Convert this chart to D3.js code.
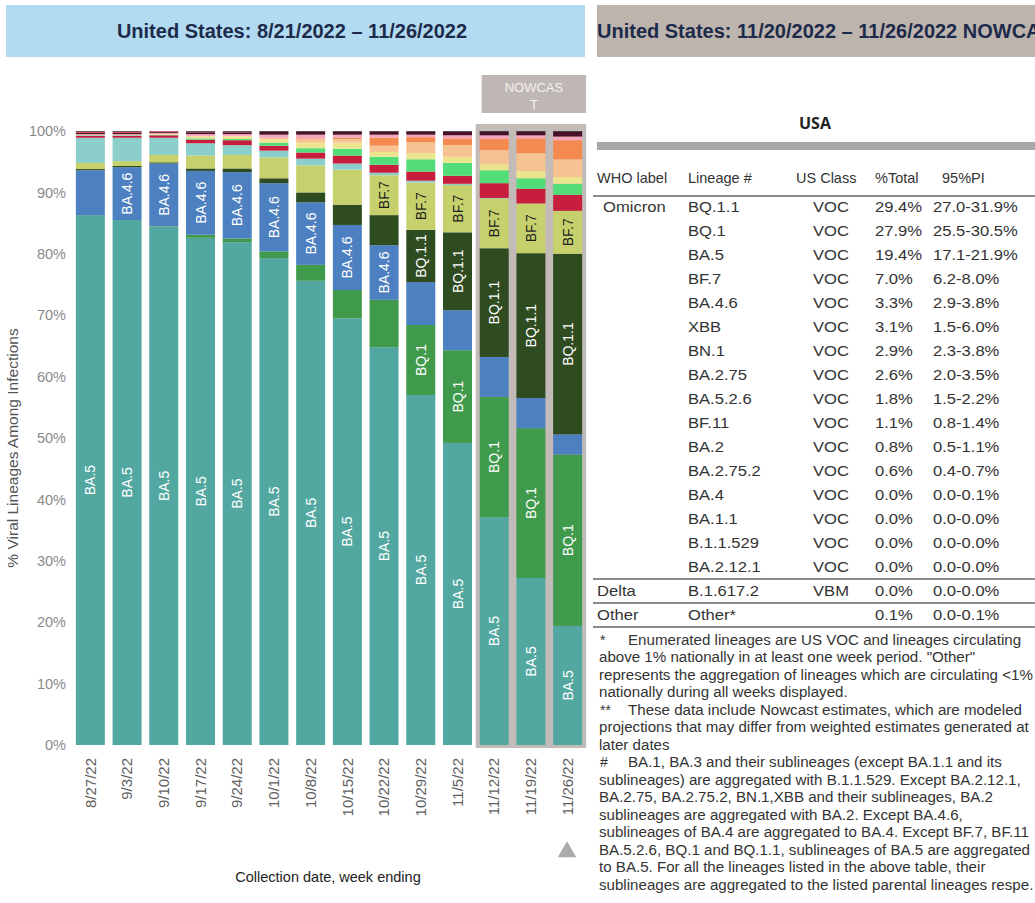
<!DOCTYPE html>
<html><head><meta charset="utf-8">
<script src="https://cdn.jsdelivr.net/npm/d3@7/dist/d3.min.js"></script>
<style>
body{margin:0;background:#fff}
svg{display:block}
text{font-family:"Liberation Sans",Arial,Helvetica,sans-serif}
</style>
</head><body>
<svg id="chart" width="1035" height="903"></svg>
<script>
// ---------- data ----------
const weeks = ["8/27/22","9/3/22","9/10/22","9/17/22","9/24/22","10/1/22","10/8/22","10/15/22","10/22/22","10/29/22","11/5/22","11/12/22","11/19/22","11/26/22"];
const nowcastWeeks = ["11/12/22","11/19/22","11/26/22"];

// stacked bottom -> top
const BA_5      = [86.3,85.5,84.4,82.6,81.9,79.3,75.6,69.5,64.8,57.0,49.2,37.1,27.2,19.4];
const BQ_1      = [0.0,0.0,0.1,0.5,0.6,1.1,2.6,4.6,7.7,11.4,15.1,19.6,24.4,27.9];
const BA_4_6    = [7.3,8.6,10.2,10.4,10.8,11.1,10.2,10.6,8.9,7.0,6.5,6.5,4.9,3.3];
const BQ_1_1    = [0.2,0.2,0.2,0.4,0.6,0.8,1.6,3.3,4.9,8.5,12.7,17.7,23.6,29.4];
const BF_7      = [1.0,0.8,1.2,2.1,2.2,3.4,4.4,5.7,6.5,7.7,7.7,8.1,8.1,7.0];
const BA_4      = [4.1,3.8,2.8,2.0,1.6,1.1,1.1,1.0,0.4,0.3,0.2,0.1,0.0,0.0];
const BA_2_75   = [0.3,0.3,0.4,0.6,0.8,0.8,1.0,1.3,1.3,1.5,1.3,2.4,2.4,2.6];
const BA_5_2_6  = [0.1,0.1,0.1,0.2,0.2,0.5,0.7,1.1,1.3,2.0,2.1,2.1,1.7,1.8];
const BF_11     = [0.0,0.0,0.1,0.3,0.4,0.5,0.9,1.0,0.8,1.0,1.0,1.0,1.2,1.1];
const BN_1      = [0.0,0.0,0.0,0.1,0.1,0.3,0.6,0.6,1.0,1.8,1.9,2.3,2.9,2.9];
const XBB       = [0.0,0.0,0.0,0.0,0.0,0.0,0.1,0.2,1.3,0.8,1.1,1.8,2.4,3.1];
const BA_2_75_2 = [0.2,0.2,0.2,0.3,0.3,0.5,0.6,0.5,0.5,0.4,0.5,0.6,0.5,0.6];
const BA_2      = [0.2,0.2,0.2,0.3,0.3,0.5,0.5,0.5,0.5,0.5,0.6,0.6,0.6,0.8];
const BA_2_12_1 = [0.2,0.2,0.1,0.1,0.1,0.0,0.0,0.0,0.0,0.0,0.0,0.0,0.0,0.0];
const OTHER     = [0.1,0.1,0.0,0.1,0.1,0.1,0.1,0.1,0.1,0.1,0.1,0.1,0.1,0.1];

const seriesNames  = ["BA.5","BQ.1","BA.4.6","BQ.1.1","BF.7","BA.4","BA.2.75","BA.5.2.6","BF.11","BN.1","XBB","BA.2.75.2","BA.2","BA.2.12.1","Other"];
const seriesValues = [BA_5,BQ_1,BA_4_6,BQ_1_1,BF_7,BA_4,BA_2_75,BA_5_2_6,BF_11,BN_1,XBB,BA_2_75_2,BA_2,BA_2_12_1,OTHER];
const seriesColors = ["#52a8a1","#3f9a4b","#4c80c0","#2f4b20","#c6d16d","#8ccfca","#c71e3d","#52dd78","#ece48f","#f6c291","#f48a50","#f4a6b8","#4a0f2b","#d9404f","#1d1d1d"];

// in-bar labels: series -> weeks where the name is printed
const labelWeeks = {
  "BA.5": weeks,
  "BA.4.6": ["9/3/22","9/10/22","9/17/22","9/24/22","10/1/22","10/8/22","10/15/22","10/22/22"],
  "BQ.1": ["10/29/22","11/5/22","11/12/22","11/19/22","11/26/22"],
  "BQ.1.1": ["10/29/22","11/5/22","11/12/22","11/19/22","11/26/22"],
  "BF.7": ["10/22/22","10/29/22","11/5/22","11/12/22","11/19/22","11/26/22"]
};

const yTicks = [0,10,20,30,40,50,60,70,80,90,100];

// table (nowcast)
const tblWho     = ["Omicron","","","","","","","","","","","","","","","","Delta","Other"];
const tblLineage = ["BQ.1.1","BQ.1","BA.5","BF.7","BA.4.6","XBB","BN.1","BA.2.75","BA.5.2.6","BF.11","BA.2","BA.2.75.2","BA.4","BA.1.1","B.1.1.529","BA.2.12.1","B.1.617.2","Other*"];
const tblClass   = ["VOC","VOC","VOC","VOC","VOC","VOC","VOC","VOC","VOC","VOC","VOC","VOC","VOC","VOC","VOC","VOC","VBM",""];
const tblTotal   = ["29.4%","27.9%","19.4%","7.0%","3.3%","3.1%","2.9%","2.6%","1.8%","1.1%","0.8%","0.6%","0.0%","0.0%","0.0%","0.0%","0.0%","0.1%"];
const tblPI      = ["27.0-31.9%","25.5-30.5%","17.1-21.9%","6.2-8.0%","2.9-3.8%","1.5-6.0%","2.3-3.8%","2.0-3.5%","1.5-2.2%","0.8-1.4%","0.5-1.1%","0.4-0.7%","0.0-0.1%","0.0-0.0%","0.0-0.0%","0.0-0.0%","0.0-0.0%","0.0-0.1%"];
const tblHeaders = ["WHO label","Lineage #","US Class","%Total","95%PI"];

const footnotes = [
  ["*","Enumerated lineages are US VOC and lineages circulating"],
  ["","above 1% nationally in at least one week period. \"Other\""],
  ["","represents the aggregation of lineages which are circulating <1%"],
  ["","nationally during all weeks displayed."],
  ["**","These data include Nowcast estimates, which are modeled"],
  ["","projections that may differ from weighted estimates generated at"],
  ["","later dates"],
  ["#","BA.1, BA.3 and their sublineages (except BA.1.1 and its"],
  ["","sublineages) are aggregated with B.1.1.529. Except BA.2.12.1,"],
  ["","BA.2.75, BA.2.75.2, BN.1,XBB and their sublineages, BA.2"],
  ["","sublineages are aggregated with BA.2. Except BA.4.6,"],
  ["","sublineages of BA.4 are aggregated to BA.4. Except BF.7, BF.11"],
  ["","BA.5.2.6, BQ.1 and BQ.1.1, sublineages of BA.5 are aggregated"],
  ["","to BA.5. For all the lineages listed in the above table, their"],
  ["","sublineages are aggregated to the listed parental lineages respe."]
];

// ---------- drawing ----------
const svg = d3.select("#chart");

// headers
svg.append("rect").attr("x",6).attr("y",5).attr("width",579).attr("height",52).attr("fill","#b2dbf2");
svg.append("text").attr("x",292).attr("y",31).attr("dy","0.35em").attr("text-anchor","middle")
  .attr("font-size",20).attr("font-weight","bold").attr("fill","#1d2b4b")
  .text("United States: 8/21/2022 \u2013 11/26/2022");
svg.append("rect").attr("x",597).attr("y",5).attr("width",438).attr("height",52).attr("fill","#bdb4ae");
svg.append("text").attr("x",597).attr("y",31).attr("dy","0.35em")
  .attr("font-size",20).attr("font-weight","bold").attr("fill","#1d2b4b")
  .text("United States: 11/20/2022 \u2013 11/26/2022 NOWCAST");

// scales
const x = d3.scaleBand().domain(weeks).range([72,586]).paddingInner(0.21).paddingOuter(0.105);
const y = d3.scaleLinear().domain([0,100]).range([745,131]);

// nowcast background + tag
const nx0 = x(nowcastWeeks[0]) - 4;
const nx1 = x(nowcastWeeks[nowcastWeeks.length-1]) + x.bandwidth() + 4;
svg.append("rect").attr("x",nx0).attr("y",124).attr("width",nx1-nx0).attr("height",y(0)+3-124).attr("fill","#c3bbb7");
svg.append("rect").attr("x",nx0+6).attr("y",75).attr("width",nx1-nx0-6).attr("height",38).attr("fill","#bfb7b3");
svg.append("text").attr("x",(nx0+6+nx1)/2).attr("y",87).attr("dy","0.35em").attr("text-anchor","middle")
  .attr("font-size",13).attr("fill","#f4f1ef").text("NOWCAS");
svg.append("text").attr("x",(nx0+6+nx1)/2).attr("y",104).attr("dy","0.35em").attr("text-anchor","middle")
  .attr("font-size",13).attr("fill","#f4f1ef").text("T");

// stacked data
const rows = weeks.map((w,i)=>{
  const r = {week:w};
  seriesNames.forEach((s,j)=>{ r[s] = seriesValues[j][i]; });
  return r;
});
const color = d3.scaleOrdinal().domain(seriesNames).range(seriesColors);
const stacked = d3.stack().keys(seriesNames)(rows);

const gBars = svg.append("g");
gBars.selectAll("g").data(stacked).join("g").attr("fill",d=>color(d.key))
  .selectAll("rect").data(d=>d).join("rect")
  .attr("x",d=>x(d.data.week))
  .attr("y",d=>y(d[1]))
  .attr("width",x.bandwidth())
  .attr("height",d=>Math.max(0,y(d[0])-y(d[1])));

// in-bar labels
const gLab = svg.append("g");
stacked.forEach(layer=>{
  const lw = labelWeeks[layer.key];
  if(!lw) return;
  layer.forEach(d=>{
    if(!lw.includes(d.data.week)) return;
    const cx = x(d.data.week) + x.bandwidth()/2;
    const cy = (y(d[0]) + y(d[1]))/2;
    gLab.append("text")
      .attr("transform",`translate(${cx},${cy}) rotate(-90)`)
      .attr("text-anchor","middle").attr("dy","0.36em")
      .attr("font-size",14)
      .attr("fill", layer.key==="BF.7" ? "#1e1e1e" : "#ffffff")
      .text(layer.key);
  });
});

// y axis
const gy = svg.append("g").attr("transform","translate(66,0)")
  .call(d3.axisLeft(y).tickValues(yTicks).tickFormat(d=>d+"%").tickSize(0).tickPadding(0));
gy.select(".domain").remove();
gy.selectAll("text").attr("font-size",14.5).attr("fill","#8a8a8a").attr("font-family","Liberation Sans, Arial, sans-serif");

svg.append("text").attr("transform","translate(13,448) rotate(-90)").attr("text-anchor","middle").attr("dy","0.35em")
  .attr("font-size",15.5).attr("fill","#555").text("% Viral Lineages Among Infections");

// x axis
const gx = svg.append("g").attr("transform",`translate(0,${y(0)})`)
  .call(d3.axisBottom(x).tickSize(0).tickPadding(0));
gx.select(".domain").remove();
gx.selectAll("text").attr("transform","rotate(-90)").attr("text-anchor","end")
  .attr("x",-13).attr("y",0).attr("dy","0.35em")
  .attr("font-size",15).attr("fill","#5f5f5f").attr("font-family","Liberation Sans, Arial, sans-serif");

svg.append("text").attr("x",328).attr("y",877).attr("dy","0.35em").attr("text-anchor","middle")
  .attr("font-size",14.5).attr("fill","#222").text("Collection date, week ending");

// triangle marker
svg.append("path").attr("d",d3.symbol().type(d3.symbolTriangle).size(150)())
  .attr("transform","translate(567,852)").attr("fill","#ababab");

// ---------- table ----------
svg.append("text").attr("x",815).attr("y",123).attr("dy","0.35em").attr("text-anchor","middle")
  .attr("font-size",16).attr("font-weight","bold").attr("fill","#222")
  .style("font-family","'Open Sans', 'Liberation Sans', sans-serif").text("USA");
svg.append("rect").attr("x",597).attr("y",142).attr("width",438).attr("height",8).attr("fill","#a8a8a8");

const colX = [597,688,796,875,942];
tblHeaders.forEach((h,i)=>{
  svg.append("text").attr("x",colX[i]).attr("y",178).attr("dy","0.35em")
    .attr("font-size",14.5).attr("fill","#333").text(h);
});
const rowY = d3.scaleLinear().domain([0,1]).range([207,231]);
const tbl = svg.append("g");
const cell = (xx,yy,txt,anchor)=> tbl.append("text")
  .attr("transform",`translate(${xx},${yy}) scale(1.07,1)`)
  .attr("dy","0.35em").attr("text-anchor",anchor||"start")
  .attr("font-size",15.5).attr("fill","#333").text(txt);
tblLineage.forEach((lin,i)=>{
  const yy = rowY(i);
  cell(i===0 ? 603 : 597, yy, tblWho[i]);
  cell(688, yy, lin);
  cell(849, yy, tblClass[i], "end");
  cell(875, yy, tblTotal[i]);
  cell(933, yy, tblPI[i]);
});
[196, (rowY(15)+rowY(16))/2, (rowY(16)+rowY(17))/2, rowY(17)+12].forEach(ly=>{
  svg.append("line").attr("x1",593).attr("x2",1035).attr("y1",ly).attr("y2",ly)
    .attr("stroke","#666").attr("stroke-width",1.3);
});

// footnotes
const fn = svg.append("g");
footnotes.forEach((f,i)=>{
  const yy = 640 + i*17.5;
  if(f[0]) fn.append("text").attr("x",600).attr("y",yy).attr("dy","0.35em").attr("font-size",14).attr("fill","#333").text(f[0]);
  fn.append("text").attr("transform",`translate(${f[0]?628:599},${yy}) scale(1.08,1)`)
    .attr("dy","0.35em").attr("font-size",14).attr("fill","#333").text(f[1]);
});
</script>
</body></html>
